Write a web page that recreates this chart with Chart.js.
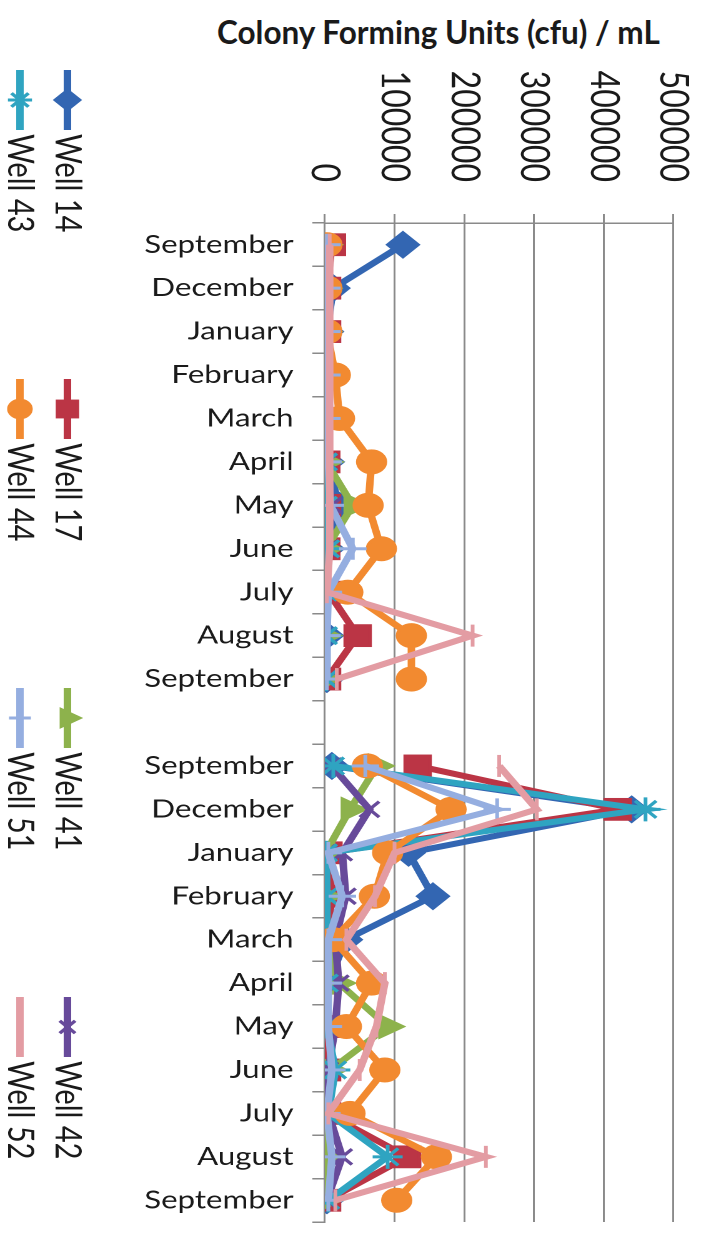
<!DOCTYPE html>
<html>
<head>
<meta charset="utf-8">
<title>Colony Forming Units</title>
<script src="https://cdn.jsdelivr.net/npm/chart.js@4"></script>
<style>
  body { margin: 0; width: 701px; height: 1239px; overflow: hidden; background: #fff; position: relative; }
  #axisTitle { position: absolute; left: 217px; top: 13px; font: bold 31.5px Lato, sans-serif; color: #1a1a1a; white-space: nowrap; }
  /* the chart is laid out lying on its side, then turned a quarter clockwise */
  #wrap { position: absolute; left: 0; top: 0; width: 1239px; height: 561px; transform-origin: 0 0;
          transform: translateX(701px) rotate(90deg) scaleY(1.2496); }
</style>
</head>
<body>
<div id="axisTitle">Colony Forming Units (cfu) / mL</div>
<div id="wrap"><canvas id="myChart"></canvas></div>
<script>
// Data
const categories = ['September', 'December', 'January', 'February', 'March', 'April', 'May', 'June', 'July', 'August', 'September', '',
  'September', 'December', 'January', 'February', 'March', 'April', 'May', 'June', 'July', 'August', 'September'];
const valueTicks = [0, 100000, 200000, 300000, 400000, 500000];

const well14 = [112000, 12000, 3000, 3000, 3000, 4000, 20000, 4000, 3000, 3000, 3000, null, 10000, 440000, 120000, 155000, 30000, 5000, 4000, 5000, 3000, 4000, 3000];
const well17 = [10000, 3000, 3000, 2000, 2000, 2000, 3000, 2000, 5000, 47000, 3000, null, 133000, 420000, 5000, 10000, 3000, 3000, 3000, 3000, 3000, 118000, 3000];
const well41 = [1000, 0, 0, 0, 0, 2000, 40000, 2000, 0, 0, 0, null, 75000, 36000, 1000, 1000, 1000, 20000, 90000, 8000, 2000, 3000, 1000];
const well42 = [2000, 2000, 2000, 2000, 2000, 3000, 10000, 3000, 2000, 2000, 2000, null, 10000, 64000, 25000, 30000, 15000, 20000, 15000, 5000, 5000, 25000, 3000];
const well43 = [2000, 2000, 2000, 2000, 2000, 2000, 2000, 5000, 2000, 2000, 2000, null, 12000, 460000, 2000, 3000, 3000, 3000, 3000, 15000, 5000, 90000, 5000];
const well44 = [3000, 3000, 3000, 15000, 21000, 67000, 62000, 81000, 33000, 124000, 124000, null, 61000, 181000, 90000, 71000, 12000, 67000, 31000, 86000, 36000, 160000, 103000];
const well51 = [3000, 3000, 3000, 3000, 3000, 5000, 8000, 40000, 5000, 3000, 3000, null, 58000, 247000, 5000, 25000, 5000, 5000, 5000, 10000, 3000, 10000, 5000];
const well52 = [7000, 7000, 7000, 7000, 7000, 7000, 7000, 7000, 3000, 212000, 17000, null, 250000, 304000, 100000, 72000, 31000, 86000, 74000, 50000, 5000, 231000, 15000];

const seriesNames = ['Well 14', 'Well 17', 'Well 41', 'Well 42', 'Well 43', 'Well 44', 'Well 51', 'Well 52'];
const seriesValues = [well14, well17, well41, well42, well43, well44, well51, well52];
const seriesColors = ['#3366b2', '#bb3545', '#8db24c', '#674a9a', '#2fa4c1', '#f28a30', '#95aee0', '#e39ca3'];
const seriesMarkers = ['rectRot', 'rect', 'triangle', 'crossRot', 'star', 'circle', 'cross', 'line'];
const markerSizes = [12, 14, 12, 11, 12, 11, 11, 11];

const FONT = 'Lato';
const GRID = '#8a8a8a';

// Legend drawn in two rows of four, like the original
const legendPlugin = {
  id: 'rowLegend',
  afterDraw: (chart) => {
    const ctx = chart.ctx;
    ctx.save();
    chart.data.datasets.forEach((ds, i) => {
      const x0 = 70 + (i % 4) * 309;
      const y = i < 4 ? 507 : 545;
      ctx.strokeStyle = ds.borderColor;
      ctx.lineWidth = ds.borderWidth;
      ctx.beginPath();
      ctx.moveTo(x0, y);
      ctx.lineTo(x0 + 60, y);
      ctx.stroke();
      ctx.fillStyle = ds.pointBackgroundColor;
      ctx.strokeStyle = ds.pointBorderColor;
      ctx.lineWidth = ds.pointBorderWidth;
      Chart.helpers.drawPoint(ctx, {
        pointStyle: ds.pointStyle, radius: ds.pointRadius * 0.8,
        borderWidth: ds.pointBorderWidth, rotation: 0
      }, x0 + 30, y);
      ctx.fillStyle = '#1a1a1a';
      ctx.font = `29px ${FONT}`;
      ctx.textAlign = 'left';
      ctx.textBaseline = 'middle';
      ctx.fillText(ds.label, x0 + 64, y);
    });
    ctx.restore();
  }
};

// Chart Creation
const ctx = document.getElementById('myChart');
new Chart(ctx, {
  type: 'line',
  data: {
    labels: categories,
    datasets: seriesNames.map((name, i) => ({
      label: name,
      data: seriesValues[i],
      borderColor: seriesColors[i],
      backgroundColor: seriesColors[i],
      pointBackgroundColor: seriesColors[i],
      pointBorderColor: seriesColors[i],
      pointStyle: seriesMarkers[i],
      pointRadius: markerSizes[i],
      pointBorderWidth: 3,
      borderWidth: 6,
      spanGaps: false,
      tension: 0,
      order: 8 - i
    }))
  },
  options: {
    responsive: true,
    maintainAspectRatio: false,
    animation: false,
    devicePixelRatio: 2,
    layout: { padding: { left: 0, right: 0, top: 22, bottom: 100 } },
    plugins: {
      legend: { display: false },
      tooltip: { enabled: false }
    },
    scales: {
      x: {
        offset: true,
        grid: { display: true, drawOnChartArea: false, drawTicks: true, tickLength: 10, offset: true, color: GRID, lineWidth: 1.5 },
        border: { color: GRID, width: 1.5 },
        ticks: {
          autoSkip: false, minRotation: 90, maxRotation: 90, padding: 15,
          color: '#1a1a1a', font: { family: FONT, size: 25 }
        },
        afterFit: (axis) => {
          axis.height = 160;
          axis.paddingLeft = 0;
          axis.paddingRight = 0;
        }
      },
      y: {
        min: valueTicks[0],
        max: valueTicks[valueTicks.length - 1],
        grid: { color: GRID, lineWidth: 1.5, tickLength: 9 },
        border: { color: GRID, width: 1.5 },
        ticks: {
          padding: 32, color: '#1a1a1a', font: { family: FONT, size: 32 },
          callback: (v) => String(v)
        },
        afterBuildTicks: (axis) => {
          axis.ticks = valueTicks.map((v) => ({ value: v }));
        },
        afterFit: (axis) => {
          axis.width = 223;
          axis.paddingTop = 0;
          axis.paddingBottom = 0;
        }
      }
    }
  },
  plugins: [legendPlugin]
});
</script>
</body>
</html>
